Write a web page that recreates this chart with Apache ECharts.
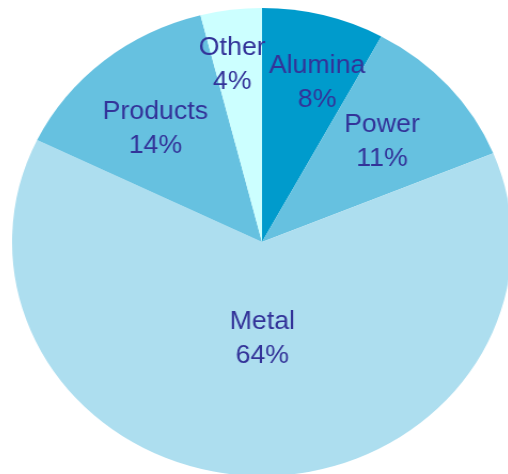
<!DOCTYPE html>
<html>
<head>
<meta charset="utf-8">
<script src="https://cdn.jsdelivr.net/npm/echarts@6/dist/echarts.min.js"></script>
<style>
  html, body { margin: 0; padding: 0; background: #ffffff; overflow: hidden; }
  /* the pie is drawn round and widened into a flat ellipse */
  #chart { width: 508px; height: 474px; transform: scaleX(1.068); transform-origin: 262px 0; }
</style>
</head>
<body>
<div id="chart"></div>
<script>
// Share of output by segment (percent)
const categories = ['Alumina', 'Power', 'Metal', 'Products', 'Other'];
const shares = [8, 11, 64, 14, 4];
const sliceColors = ['#009bcc', '#66c1e0', '#addeef', '#66c1e0', '#ccffff'];

// label nudges away from the default inside spot, per slice
const labelShift = [[22, -43], [23, -20], [4, -23], [-24, -20], [-13, -58]];

const chart = echarts.init(document.getElementById('chart'), null, { renderer: 'canvas' });

chart.setOption({
  animation: false,
  series: [{
    type: 'pie',
    center: [262, 242],
    radius: [0, 234],
    startAngle: 90,
    clockwise: true,
    silent: true,
    itemStyle: { borderWidth: 0 },
    label: {
      show: true,
      position: 'inside',
      formatter: '{b}\n{c}%',
      color: '#333399',
      fontFamily: 'Liberation Sans, Arial, sans-serif',
      fontSize: 25,
      lineHeight: 34,
      align: 'center'
    },
    labelLine: { show: false },
    labelLayout: function (params) {
      const s = labelShift[params.dataIndex];
      return { dx: s[0], dy: s[1] };
    },
    data: categories.map(function (name, i) {
      return { name: name, value: shares[i], itemStyle: { color: sliceColors[i] } };
    })
  }]
});
</script>
</body>
</html>
